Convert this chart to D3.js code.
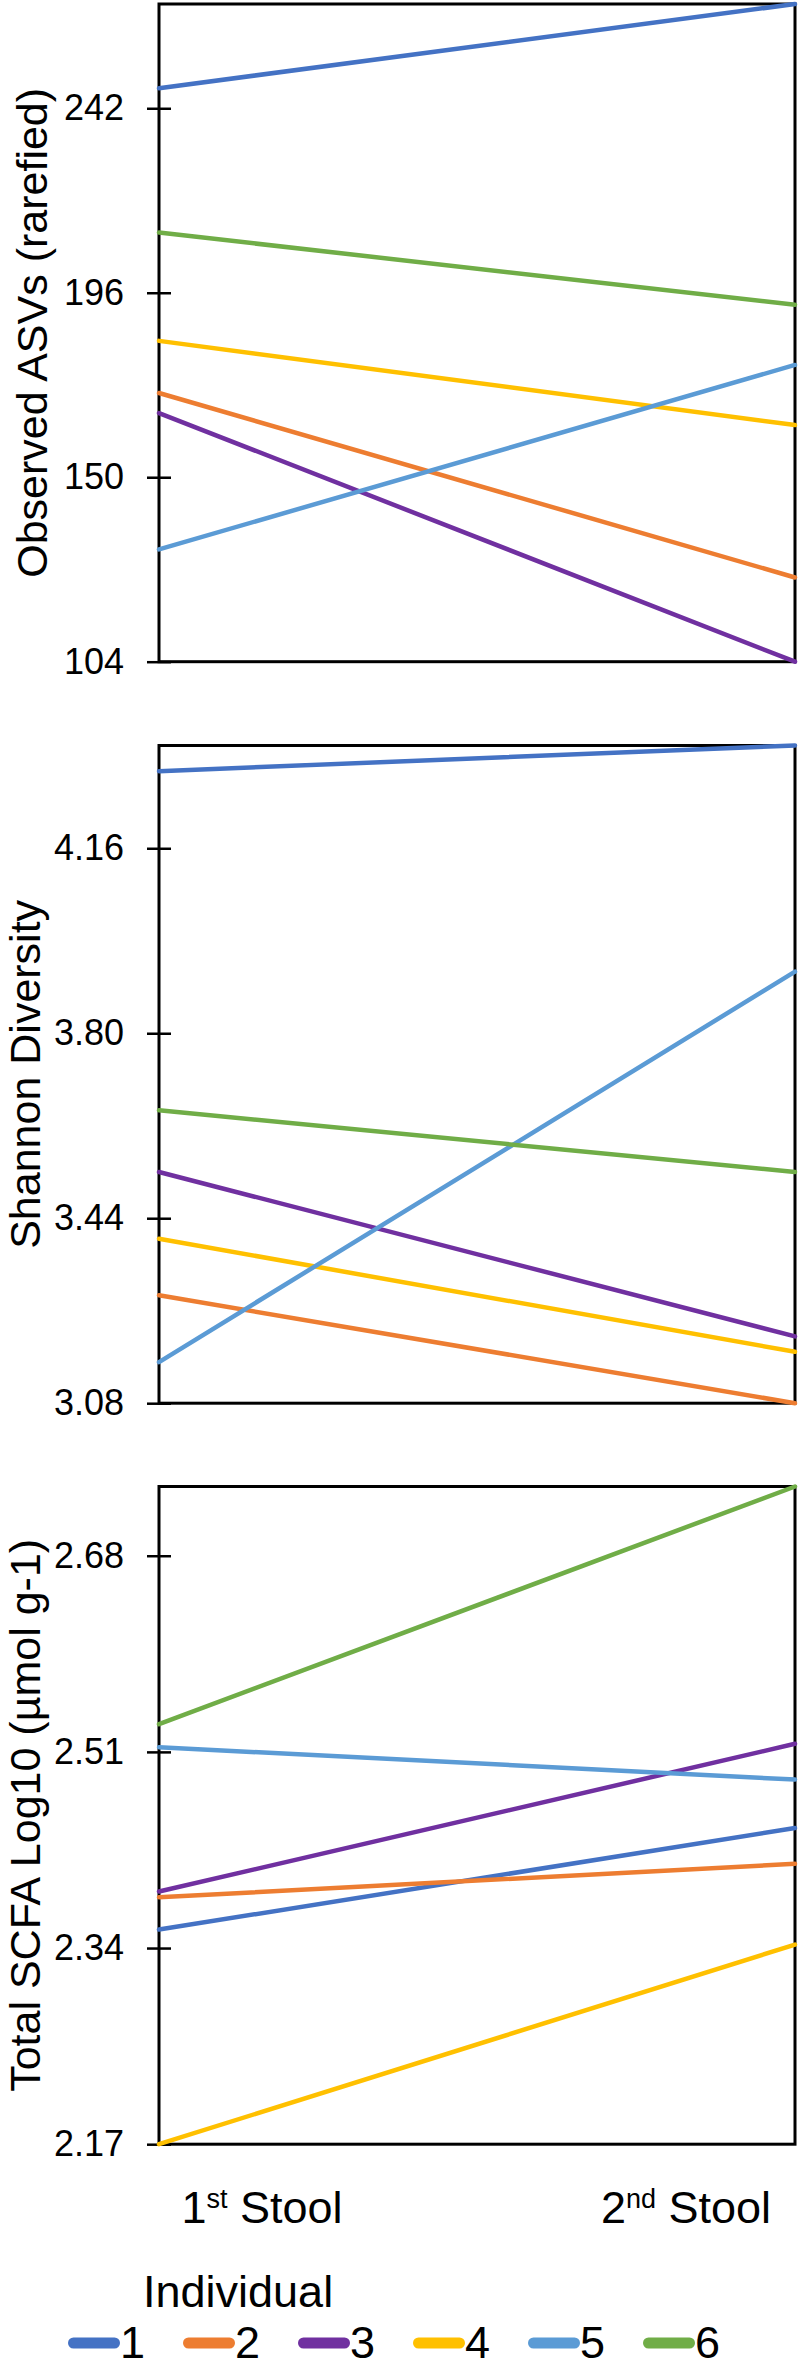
<!DOCTYPE html>
<html>
<head>
<meta charset="utf-8">
<script src="https://cdn.jsdelivr.net/npm/d3@7"></script>
<style>
  html, body { margin: 0; padding: 0; background: #fff; }
  svg { display: block; }
  text { font-family: "Liberation Sans", Arial, sans-serif; fill: #000; }
</style>
</head>
<body>
<script>
// ---- data ----
const categories = ["1st Stool", "2nd Stool"];
const categoryNum = ["1", "2"];
const categorySup = ["st", "nd"];
const categoryWord = " Stool";

const individuals = ["1", "2", "3", "4", "5", "6"];
const colors = ["#4472C4", "#ED7D31", "#7030A0", "#FFC000", "#5B9BD5", "#70AD47"];

// Observed ASVs (rarefied): [1st, 2nd] per individual
const asvValues = [
  [247, 268],
  [171, 125],
  [166, 104],
  [184, 163],
  [132, 178],
  [211, 193]
];
const asvTicks = [104, 150, 196, 242];
const asvDomain = [104, 268];

// Shannon Diversity
const shannonValues = [
  [4.31, 4.36],
  [3.29, 3.08],
  [3.53, 3.21],
  [3.40, 3.18],
  [3.16, 3.92],
  [3.65, 3.53]
];
const shannonTicks = [3.08, 3.44, 3.80, 4.16];
const shannonDomain = [3.08, 4.36];

// Total SCFA Log10
const scfaValues = [
  [2.356, 2.444],
  [2.384, 2.413],
  [2.389, 2.517],
  [2.170, 2.343],
  [2.514, 2.486],
  [2.534, 2.740]
];
const scfaTicks = [2.17, 2.34, 2.51, 2.68];
const scfaDomain = [2.17, 2.74];

const panelTitles = ["Observed ASVs (rarefied)", "Shannon Diversity", "Total SCFA Log10 (\u00b5mol g-1)"];

// ---- layout ----
const W = 800, H = 2368;
const left = 159, right = 795;
const panelTops = [4, 745.5, 1486.5];
const panelH = 657.7;
const titleX = [46.5, 39.5, 39.5];

const panels = [
  { values: asvValues, ticks: asvTicks, domain: asvDomain, fmt: d3.format("d") },
  { values: shannonValues, ticks: shannonTicks, domain: shannonDomain, fmt: d3.format(".2f") },
  { values: scfaValues, ticks: scfaTicks, domain: scfaDomain, fmt: d3.format(".2f") }
];

const svg = d3.select("body").append("svg")
  .attr("width", W).attr("height", H)
  .attr("viewBox", `0 0 ${W} ${H}`);
svg.append("rect").attr("width", W).attr("height", H).attr("fill", "#fff");

const x = d3.scalePoint().domain(categories).range([left, right]).padding(0);
const xLab = d3.scalePoint().domain(categories).range([left, right]).padding(0.25);

panels.forEach((p, pi) => {
  const top = panelTops[pi];
  const bottom = top + panelH;
  const y = d3.scaleLinear().domain(p.domain).range([bottom, top]);
  const g = svg.append("g");

  // frame
  g.append("rect")
    .attr("x", left).attr("y", top)
    .attr("width", right - left).attr("height", panelH)
    .attr("fill", "none").attr("stroke", "#000").attr("stroke-width", 3);

  // y axis
  const ax = g.append("g")
    .attr("transform", `translate(${left},0)`)
    .call(d3.axisLeft(y).tickValues(p.ticks).tickFormat(p.fmt)
      .tickSizeInner(12).tickSizeOuter(0).tickPadding(23));
  ax.select(".domain").remove();
  ax.selectAll(".tick line").attr("x1", 12).attr("stroke", "#000").attr("stroke-width", 2.5);
  ax.selectAll(".tick text")
    .attr("font-size", 36)
    .attr("font-family", "Liberation Sans, Arial, sans-serif")
    .attr("fill", "#000");

  // lines
  const line = d3.line().x((d, i) => x(categories[i])).y(d => y(d));
  g.selectAll("path.series")
    .data(p.values)
    .join("path")
    .attr("class", "series")
    .attr("d", d => line(d))
    .attr("fill", "none")
    .attr("stroke", (d, i) => colors[i])
    .attr("stroke-width", 4.5)
    .attr("stroke-linecap", "round");

  // y title
  g.append("text")
    .attr("transform", `translate(${titleX[pi]},${top + panelH / 2}) rotate(-90)`)
    .attr("text-anchor", "middle")
    .attr("font-size", 43)
    .text(panelTitles[pi]);
});

// x category labels
const labBase = 2222.7;
categories.forEach((c, i) => {
  const t = svg.append("text")
    .attr("x", xLab(c) - 3)
    .attr("y", labBase)
    .attr("text-anchor", "middle")
    .attr("font-size", 45);
  t.append("tspan").text(categoryNum[i]);
  t.append("tspan").attr("font-size", 27).attr("dy", -15).text(categorySup[i]);
  t.append("tspan").attr("dy", 15).text(categoryWord);
});

// legend
svg.append("text")
  .attr("x", 143).attr("y", 2307)
  .attr("font-size", 45)
  .text("Individual");

const legX = d3.scaleLinear().domain([0, 1]).range([68, 183]);
const legY = 2343;
const leg = svg.append("g").selectAll("g")
  .data(individuals)
  .join("g")
  .attr("transform", (d, i) => `translate(${legX(i)},${legY})`);
leg.append("line")
  .attr("x1", 5.5).attr("x2", 46.5).attr("y1", 0).attr("y2", 0)
  .attr("stroke", (d, i) => colors[i])
  .attr("stroke-width", 11)
  .attr("stroke-linecap", "round");
leg.append("text")
  .attr("x", 52).attr("y", 15)
  .attr("font-size", 45)
  .text(d => d);
</script>
</body>
</html>
